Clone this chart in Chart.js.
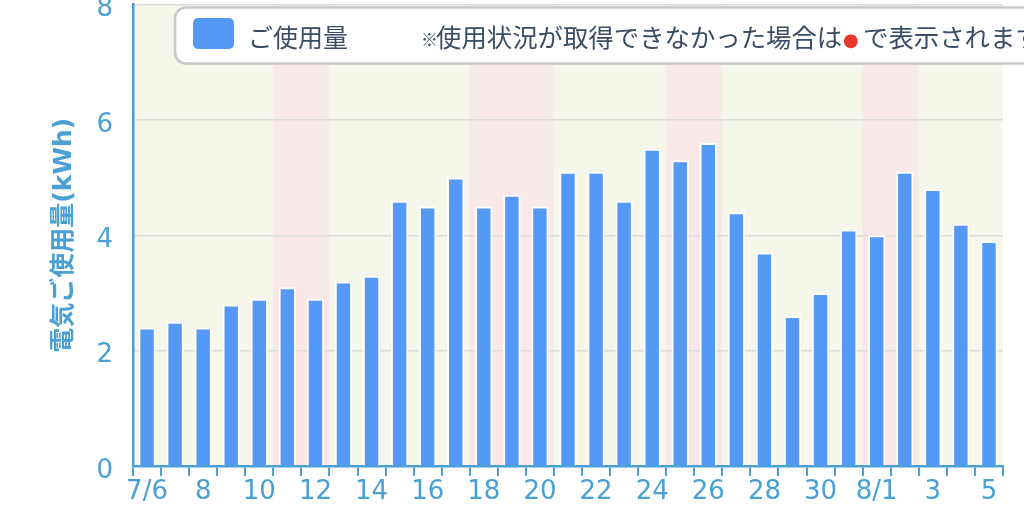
<!DOCTYPE html>
<html>
<head>
<meta charset="utf-8">
<script src="https://cdn.jsdelivr.net/npm/chart.js@4"></script>
<style>
  html, body { margin: 0; padding: 0; background: #ffffff; }
  #wrap { width: 1024px; height: 513px; position: relative; }
</style>
</head>
<body>
<div id="wrap"><canvas id="c"></canvas></div>
<script>
const dates = ['7/6','7/7','7/8','7/9','7/10','7/11','7/12','7/13','7/14','7/15','7/16','7/17','7/18','7/19','7/20','7/21','7/22','7/23','7/24','7/25','7/26','7/27','7/28','7/29','7/30','7/31','8/1','8/2','8/3','8/4','8/5'];
const tickLabels = ['7/6','','8','','10','','12','','14','','16','','18','','20','','22','','24','','26','','28','','30','','8/1','','3','','5'];
const usage = [2.4,2.5,2.4,2.8,2.9,3.1,2.9,3.2,3.3,4.6,4.5,5.0,4.5,4.7,4.5,5.1,5.1,4.6,5.5,5.3,5.6,4.4,3.7,2.6,3.0,4.1,4.0,5.1,4.8,4.2,3.9];
const holidays = ['7/11','7/12','7/18','7/19','7/20','7/25','7/26','8/1','8/2'];
const yTicks = [0,2,4,6,8];
const seriesName = 'ご使用量';
const noteText = '使用状況が取得できなかった場合は';
const noteText2 = 'で表示されます';
const yTitle = '電気ご使用量(kWh)';

const BLUE_AXIS = '#4aa0d5';
const BAR = '#5499f5';
const WEEKDAY_BG = '#f5f7eb';
const HOLIDAY_BG = '#f9e8e8';
const TEXT_DARK = '#3a4c66';

const bandPlugin = {
  id: 'bands',
  beforeDraw(chart) {
    const {ctx, chartArea, scales} = chart;
    const xs = scales.x;
    ctx.save();
    ctx.beginPath();
    ctx.rect(chartArea.left, chartArea.top, chartArea.right - chartArea.left, chartArea.bottom - chartArea.top);
    ctx.clip();
    const w = (chartArea.right - chartArea.left) / dates.length;
    dates.forEach((d, i) => {
      const cx = xs.getPixelForValue(i);
      ctx.fillStyle = holidays.includes(d) ? HOLIDAY_BG : WEEKDAY_BG;
      ctx.fillRect(cx - w / 2 - 0.5, chartArea.top, w + 1, chartArea.bottom - chartArea.top);
    });
    ctx.restore();
  }
};

const legendPlugin = {
  id: 'customLegend',
  afterDraw(chart) {
    const ctx = chart.ctx;
    ctx.save();
    ctx.beginPath();
    ctx.roundRect(175, 7.5, 900, 56, 11);
    ctx.fillStyle = '#ffffff';
    ctx.fill();
    ctx.lineWidth = 2.5;
    ctx.strokeStyle = '#c8c8c8';
    ctx.stroke();
    ctx.beginPath();
    ctx.roundRect(193, 18, 41, 31, 5);
    ctx.fillStyle = BAR;
    ctx.fill();
    ctx.textBaseline = 'middle';
    ctx.textAlign = 'left';
    ctx.fillStyle = TEXT_DARK;
    ctx.font = '25px "Noto Sans CJK JP"';
    ctx.fillText(seriesName, 248, 37);
    ctx.font = '17px "Noto Sans CJK JP"';
    ctx.fillText('※', 421, 40);
    ctx.font = '25.4px "Noto Sans CJK JP"';
    ctx.fillText(noteText, 436, 37);
    ctx.fillStyle = '#e8372a';
    ctx.font = '18px "DejaVu Sans"';
    ctx.fillText('●', 843, 41);
    ctx.fillStyle = TEXT_DARK;
    ctx.font = '25.4px "Noto Sans CJK JP"';
    ctx.fillText(noteText2, 863, 37);
    ctx.restore();
  }
};

new Chart(document.getElementById('c'), {
  type: 'bar',
  data: {
    labels: dates,
    datasets: [{
      label: seriesName,
      data: usage,
      backgroundColor: BAR,
      borderColor: '#ffffff',
      borderWidth: 2,
      barPercentage: 0.62,
      categoryPercentage: 1.0
    }]
  },
  options: {
    responsive: true,
    maintainAspectRatio: false,
    animation: false,
    layout: { padding: { top: 4.5, right: 21, left: 0, bottom: 0 } },
    plugins: {
      legend: { display: false },
      tooltip: { enabled: false }
    },
    scales: {
      x: {
        offset: true,
        grid: {
          offset: true,
          drawOnChartArea: false,
          drawTicks: true,
          tickLength: 10,
          color: BLUE_AXIS,
          lineWidth: 2
        },
        border: { display: true, color: BLUE_AXIS, width: 2.5 },
        ticks: {
          autoSkip: false,
          maxRotation: 0,
          minRotation: 0,
          padding: 1,
          color: BLUE_AXIS,
          font: { family: '"DejaVu Sans"', size: 26 },
          callback: (v, i) => tickLabels[i]
        },
        afterFit: s => { s.height = 47; s.paddingLeft = 0; s.paddingRight = 0; }
      },
      y: {
        min: 0,
        max: 8,
        afterBuildTicks: s => { s.ticks = yTicks.map(v => ({ value: v })); },
        grid: {
          drawTicks: false,
          color: '#dcdcdc',
          lineWidth: 1.5
        },
        border: { display: true, color: BLUE_AXIS, width: 2.5 },
        ticks: {
          padding: 20,
          labelOffset: 5,
          color: BLUE_AXIS,
          font: { family: '"DejaVu Sans"', size: 26 }
        },
        title: {
          display: true,
          text: yTitle,
          color: BLUE_AXIS,
          font: { family: '"DejaVu Sans", "Noto Sans CJK JP"', size: 25, weight: 'bold' },
          padding: { top: 49, bottom: 0 }
        },
        afterFit: s => { s.width = 133; s.paddingTop = 0; s.paddingBottom = 0; }
      }
    }
  },
  plugins: [bandPlugin, legendPlugin]
});
</script>
</body>
</html>
